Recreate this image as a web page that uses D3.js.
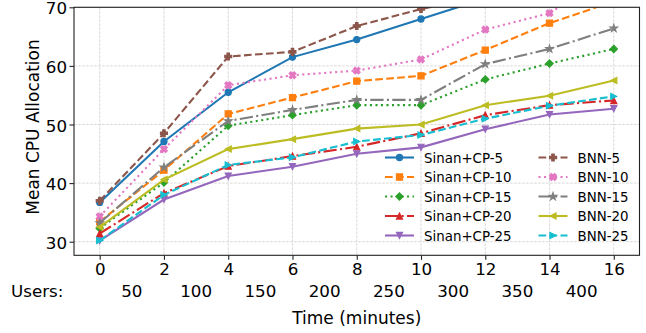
<!DOCTYPE html>
<html><head><meta charset="utf-8">
<script src="https://cdn.jsdelivr.net/npm/d3@7"></script>
<style>body{margin:0;background:#fff}svg{display:block}text{font-family:"DejaVu Sans",sans-serif;fill:#000}</style>
</head><body><svg id="c" width="646" height="333"></svg>
<script>
// ---------- data ----------
const times = [0, 2, 4, 6, 8, 10, 12, 14, 16];
const xTicks = [0, 2, 4, 6, 8, 10, 12, 14, 16];
const yTicks = [30, 40, 50, 60, 70];
const userLabels = [50, 100, 150, 200, 250, 300, 350, 400];
const userPositions = [1, 3, 5, 7, 9, 11, 13, 15];

const sinanCP5  = [36.7, 47.1, 55.5, 61.5, 64.5, 68.0, 71.5, 73.0, 74.0];
const sinanCP10 = [33.4, 42.2, 51.8, 54.6, 57.4, 58.3, 62.7, 67.3, 71.0];
const sinanCP15 = [32.3, 40.1, 49.8, 51.6, 53.3, 53.3, 57.7, 60.4, 62.9];
const sinanCP20 = [31.4, 38.3, 42.9, 44.6, 46.2, 48.5, 51.6, 53.3, 54.1];
const sinanCP25 = [30.2, 37.2, 41.2, 42.8, 45.0, 46.1, 49.2, 51.7, 52.7];
const bnn5  = [37.0, 48.5, 61.6, 62.4, 66.8, 69.7, 72.0, 74.0, 75.0];
const bnn10 = [34.3, 45.8, 56.7, 58.4, 59.2, 61.1, 66.2, 69.0, 76.0];
const bnn15 = [33.2, 42.7, 50.6, 52.5, 54.2, 54.2, 60.3, 62.9, 66.4];
const bnn20 = [32.5, 40.6, 45.8, 47.5, 49.3, 50.0, 53.3, 54.9, 57.5];
const bnn25 = [30.2, 38.0, 43.1, 44.4, 47.1, 48.2, 51.0, 53.2, 54.8];

const seriesNames = ["Sinan+CP-5","Sinan+CP-10","Sinan+CP-15","Sinan+CP-20","Sinan+CP-25",
                     "BNN-5","BNN-10","BNN-15","BNN-20","BNN-25"];
const seriesValues = [sinanCP5, sinanCP10, sinanCP15, sinanCP20, sinanCP25,
                      bnn5, bnn10, bnn15, bnn20, bnn25];
const seriesColors = ["#1f77b4","#ff7f0e","#2ca02c","#d62728","#9467bd",
                      "#8c564b","#e377c2","#7f7f7f","#bcbd22","#17becf"];
const seriesDash = ["solid","dashed","dotted","dashdot","solid",
                    "dashed","dotted","dashdot","solid","dashed"];
const seriesMarker = ["circle","square","diamond","triUp","triDown",
                      "plus","xfill","star","triLeft","triRight"];

// ---------- layout ----------
const svg = d3.select("#c");
const L = 74, R = 639.5, T = 7.3, B = 255.3;
const x = d3.scaleLinear().domain([-0.8, 16.8]).range([L, R]);
const y = d3.scaleLinear().domain([27.68, 70]).range([B, T]);

const dashMap = {solid: null, dashed: "7.7,3.3", dotted: "2.1,3.4", dashdot: "13.3,3.3,2.1,3.3"};

function markerPath(type) {
  const h = 3.1;
  const p = d3.path();
  const poly = pts => { pts.forEach((q,i)=> i ? p.lineTo(q[0],q[1]) : p.moveTo(q[0],q[1])); p.closePath(); };
  switch (type) {
    case "circle": p.arc(0,0,h,0,2*Math.PI); break;
    case "square": poly([[-h,-h],[h,-h],[h,h],[-h,h]]); break;
    case "diamond": { const d = 3.7; poly([[0,-d],[d,0],[0,d],[-d,0]]); break; }
    case "triUp": poly([[0,-h],[h,h],[-h,h]]); break;
    case "triDown": poly([[0,h],[h,-h],[-h,-h]]); break;
    case "triLeft": poly([[-h,0],[h,-h],[h,h]]); break;
    case "triRight": poly([[h,0],[-h,-h],[-h,h]]); break;
    case "plus": { const a = 3.5, w = 1.25;
      poly([[-w,-a],[w,-a],[w,-w],[a,-w],[a,w],[w,w],[w,a],[-w,a],[-w,w],[-a,w],[-a,-w],[-w,-w]]); break; }
    case "xfill": { const a = 3.6, w = 1.25, c = Math.SQRT1_2;
      const pts = [[-w,-a],[w,-a],[w,-w],[a,-w],[a,w],[w,w],[w,a],[-w,a],[-w,w],[-a,w],[-a,-w],[-w,-w]]
        .map(q => [(q[0]-q[1])*c, (q[0]+q[1])*c]);
      poly(pts); break; }
    case "star": { const ro = 4.0, ri = ro*0.382, pts = [];
      for (let k=0;k<10;k++){ const r = k%2?ri:ro, ang = -Math.PI/2 + k*Math.PI/5; pts.push([r*Math.cos(ang), r*Math.sin(ang)]); }
      poly(pts); break; }
  }
  return p.toString();
}

// clip
svg.append("defs").append("clipPath").attr("id","clip")
  .append("rect").attr("x",L).attr("y",T).attr("width",R-L).attr("height",B-T);

// grid
const grid = svg.append("g").attr("stroke","#d0d0d0").attr("stroke-width",0.8).attr("stroke-dasharray","2.8,1.2");
grid.selectAll("line.gx").data(xTicks).join("line")
  .attr("x1",d=>x(d)).attr("x2",d=>x(d)).attr("y1",T).attr("y2",B);
grid.selectAll("line.gy").data(yTicks).join("line")
  .attr("y1",d=>y(d)).attr("y2",d=>y(d)).attr("x1",L).attr("x2",R);

// series
const line = d3.line().x((d,i)=>x(times[i])).y(d=>y(d));
const plot = svg.append("g").attr("clip-path","url(#clip)");
seriesValues.forEach((vals, s) => {
  const g = plot.append("g");
  g.append("path").attr("d", line(vals)).attr("fill","none")
    .attr("stroke", seriesColors[s]).attr("stroke-width",2.1)
    .attr("stroke-dasharray", dashMap[seriesDash[s]]);
  g.selectAll("path.m").data(vals).join("path").attr("class","m")
    .attr("d", markerPath(seriesMarker[s]))
    .attr("transform",(d,i)=>`translate(${x(times[i])},${y(d)})`)
    .attr("fill", seriesColors[s]).attr("stroke", seriesColors[s]).attr("stroke-width",1.1);
});

// spines
svg.append("rect").attr("x",L).attr("y",T).attr("width",R-L).attr("height",B-T)
  .attr("fill","none").attr("stroke","#222").attr("stroke-width",1.1);

// axes
const fs = 16.7;
const yAxis = svg.append("g").attr("transform",`translate(${L},0)`)
  .call(d3.axisLeft(y).tickValues(yTicks).tickSize(4.5).tickPadding(2.5));
const xAxis = svg.append("g").attr("transform",`translate(0,${B})`)
  .call(d3.axisBottom(x).tickValues(xTicks).tickSize(4.5).tickPadding(3));
[yAxis, xAxis].forEach(a => {
  a.select(".domain").remove();
  a.selectAll("line").attr("stroke","#222").attr("stroke-width",1.1);
  a.selectAll("text").attr("font-size",fs).attr("font-family","DejaVu Sans").attr("fill","#000");
});
yAxis.selectAll("text").attr("dy","0.4em");

// users row
svg.append("text").attr("x",11).attr("y",296.7).attr("font-size",fs).text("Users:");
svg.selectAll("text.users").data(userLabels).join("text").attr("class","users")
  .attr("x",(d,i)=>x(userPositions[i])).attr("y",296.7).attr("text-anchor","middle")
  .attr("font-size",fs).text(d=>d);

// axis titles
svg.append("text").attr("x",(L+R)/2).attr("y",324).attr("text-anchor","middle")
  .attr("font-size",17).text("Time (minutes)");
svg.append("text").attr("transform","translate(39,127) rotate(-90)").attr("text-anchor","middle")
  .attr("font-size",17).text("Mean CPU Allocation");

// legend
const legX = [385, 538.5], legY0 = 157.5, legDy = 19.5, hl = 29;
const leg = svg.append("g");
seriesNames.forEach((name, s) => {
  const col = Math.floor(s/5), row = s%5;
  const lx = legX[col], ly = legY0 + row*legDy;
  const g = leg.append("g");
  g.append("line").attr("x1",lx).attr("x2",lx+hl).attr("y1",ly).attr("y2",ly)
    .attr("stroke",seriesColors[s]).attr("stroke-width",2.1)
    .attr("stroke-dasharray",dashMap[seriesDash[s]]);
  g.append("path").attr("d",markerPath(seriesMarker[s])).attr("transform",`translate(${lx+hl/2},${ly})`)
    .attr("fill",seriesColors[s]).attr("stroke",seriesColors[s]).attr("stroke-width",1.1);
  g.append("text").attr("x",lx+hl+10).attr("y",ly+5).attr("font-size",13.4).text(name);
});
</script></body></html>
